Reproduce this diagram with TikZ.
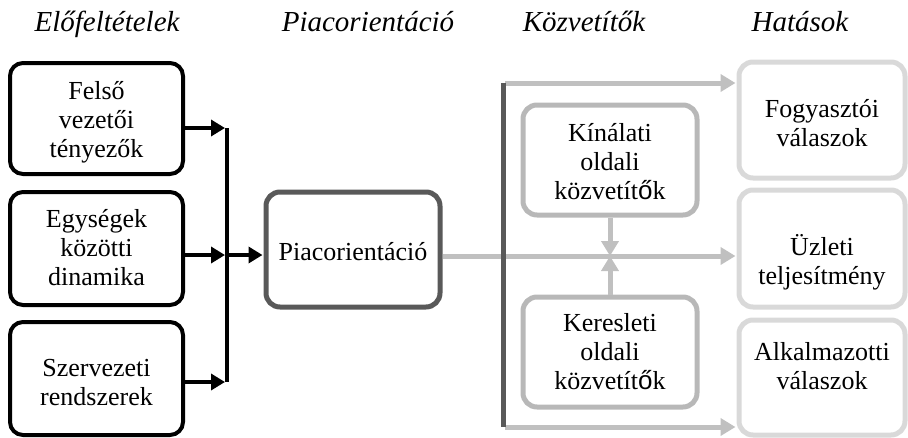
\documentclass[tikz,border=0pt]{standalone}
\usepackage{fontspec}
\setmainfont{Liberation Serif}
\newfontfamily\glyphsans{Liberation Sans}
\usetikzlibrary{arrows.meta}
\definecolor{darkline}{HTML}{595959}
\definecolor{midline}{HTML}{C0C0C0}
\definecolor{midbox}{HTML}{B8B8B8}
\definecolor{lightbox}{HTML}{D9D9D9}
\begin{document}
\begin{tikzpicture}[x=1pt,y=-1pt,
  body/.style={font=\fontsize{26}{29}\selectfont, align=center, inner sep=0pt},
  head/.style={font=\fontsize{29}{32}\selectfont\itshape, anchor=base},
  srcbox/.style={draw=black, line width=4pt, rounded corners=13pt, minimum width=173pt},
  focusbox/.style={draw=darkline, line width=5pt, rounded corners=14pt, minimum width=174pt, minimum height=115pt},
  medbox/.style={draw=midbox, line width=5pt, rounded corners=14pt, minimum width=174pt, minimum height=110pt},
  effbox/.style={draw=lightbox, line width=5pt, rounded corners=14pt, minimum width=166pt},
  blackarrow/.style={draw=black, line width=4pt, -{Triangle[length=14pt,width=16pt]}},
  grayarrow/.style={draw=midline, line width=5pt, -{Triangle[length=15pt,width=17pt]}},
  darkbar/.style={draw=darkline, line width=5pt},
  blackbar/.style={draw=black, line width=4pt}
]
\useasboundingbox (0,0) rectangle (908,437);

% column headings
\node[head] (h1) at (107,31) {Előfeltételek};
\node[head] (h2) at (368,31) {Piacorientáció};
\node[head] (h3) at (584,31) {Közvetítők};
\node[head] (h4) at (800,31) {Hatások};

% antecedents
\node[srcbox, minimum height=111pt] (src1) at (96.5,118.5) {};
\node[srcbox, minimum height=113pt] (src2) at (96.5,248.5) {};
\node[srcbox, minimum height=113pt] (src3) at (96.5,378.5) {};
\node[body] (src1txt) at (96.5,122.5) {Felső\\vezetői\\tényezők};
\node[body] (src2txt) at (96.5,247.5) {Egységek\\közötti\\dinamika};
\node[body] (src3txt) at (96.5,382.5) {Szervezeti\\rendszerek};

% market orientation
\node[focusbox] (piac) at (353,249.5) {};
\node[body] (piactxt) at (353,251.5) {Piacorientáció};

% mediators
\node[medbox] (kin) at (610,160) {};
\node[medbox] (ker) at (610,352) {};
\node[body] (kintxt) at (610,161.5) {Kínálati\\oldali\\közvetít{\glyphsans ő}k};
\node[body] (kertxt) at (610,351.5) {Keresleti\\oldali\\közvetít{\glyphsans ő}k};

% consequences
\node[effbox, minimum height=116pt] (eff1) at (822,120) {};
\node[effbox, minimum height=117pt] (eff2) at (822,248.5) {};
\node[effbox, minimum height=115pt] (eff3) at (822,377.5) {};
\node[body] (eff1txt) at (822,123.5) {Fogyasztói\\válaszok};
\node[body] (eff2txt) at (822,262) {Üzleti\\teljesítmény};
\node[body] (eff3txt) at (822,366) {Alkalmazotti\\válaszok};

% junction points
\coordinate (jT) at (227,128);
\coordinate (jM) at (227,255);
\coordinate (jB) at (227,382);
\coordinate (barT) at (503,83);
\coordinate (barB) at (503,427);
\coordinate (mid) at (610,256);

% antecedents -> market orientation
\draw[blackbar] (jT) -- (jB);
\draw[blackarrow, shorten >=2pt] (src1.east |- jT) -- (jT);
\draw[blackarrow, shorten >=2pt] (src2.east |- jM) -- (jM);
\draw[blackarrow, shorten >=2pt] (src3.east |- jB) -- (jB);
\draw[blackarrow, shorten <=2pt, shorten >=1pt] (jM) -- (piac.west |- jM);

% market orientation -> consequences
\draw[grayarrow, shorten >=1pt] (piac.east |- mid) -- (eff2.west |- mid);
\draw[grayarrow, shorten <=2pt, shorten >=1pt] (barT) -- (eff1.west |- barT);
\draw[grayarrow, shorten <=2pt, shorten >=1pt] (barB) -- (eff3.west |- barB);
\draw[darkbar] (barT) -- (barB);

% mediators acting on the main path
\draw[grayarrow] (kin.south) -- (mid);
\draw[grayarrow] (ker.north) -- (mid);
\end{tikzpicture}
\end{document}
